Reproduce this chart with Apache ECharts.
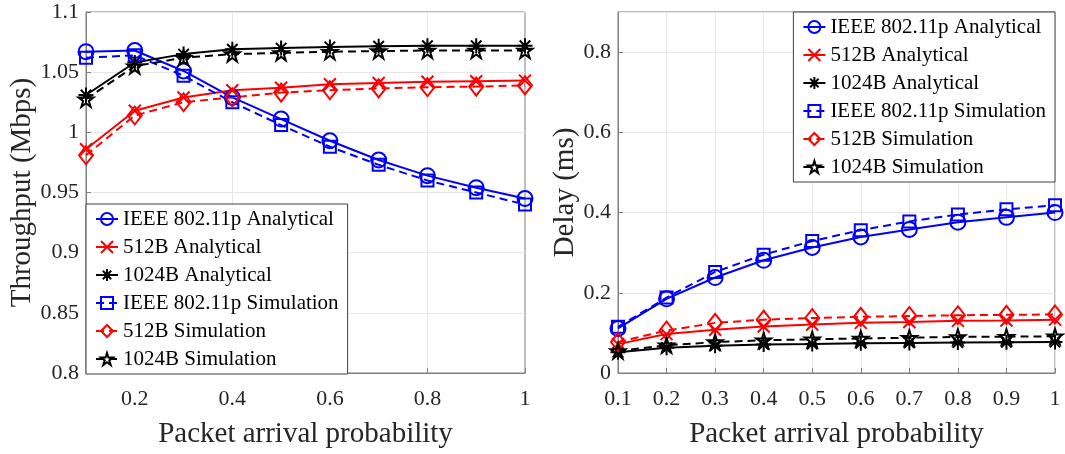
<!DOCTYPE html>
<html>
<head>
<meta charset="utf-8">
<script src="https://cdn.jsdelivr.net/npm/echarts@6/dist/echarts.min.js"></script>
<style>
  html, body { margin: 0; padding: 0; background: #fff; }
  #box { width: 1065px; height: 454px; }
</style>
</head>
<body>
<div id="box"></div>
<script>
// packet arrival probability (x for both panels)
var probs = [0.1, 0.2, 0.3, 0.4, 0.5, 0.6, 0.7, 0.8, 0.9, 1.0];

// throughput (Mbps), left panel
var thrIeeeAna = [1.067, 1.068, 1.051, 1.029, 1.011, 0.993, 0.977, 0.964, 0.954, 0.945];
var thr512Ana = [0.986, 1.018, 1.029, 1.035, 1.037, 1.040, 1.041, 1.042, 1.0425, 1.043];
var thr1024Ana = [1.031, 1.058, 1.065, 1.069, 1.070, 1.071, 1.0715, 1.072, 1.072, 1.072];
var thrIeeeSim = [1.062, 1.064, 1.047, 1.025, 1.006, 0.988, 0.973, 0.960, 0.950, 0.940];
var thr512Sim = [0.981, 1.014, 1.025, 1.029, 1.033, 1.035, 1.0365, 1.0375, 1.038, 1.039];
var thr1024Sim = [1.0275, 1.055, 1.062, 1.065, 1.066, 1.067, 1.0675, 1.068, 1.068, 1.068];

// delay (ms), right panel
var delIeeeAna = [0.111, 0.185, 0.238, 0.281, 0.313, 0.339, 0.358, 0.376, 0.388, 0.400];
var del512Ana = [0.072, 0.097, 0.108, 0.116, 0.121, 0.125, 0.127, 0.130, 0.131, 0.133];
var del1024Ana = [0.052, 0.063, 0.068, 0.071, 0.072, 0.074, 0.075, 0.076, 0.0765, 0.077];
var delIeeeSim = [0.115, 0.188, 0.252, 0.295, 0.329, 0.356, 0.378, 0.395, 0.408, 0.418];
var del512Sim = [0.077, 0.106, 0.125, 0.133, 0.137, 0.140, 0.142, 0.144, 0.145, 0.146];
var del1024Sim = [0.055, 0.069, 0.077, 0.0815, 0.084, 0.086, 0.088, 0.090, 0.0905, 0.0915];

var names = [
    'IEEE 802.11p Analytical', '512B Analytical', '1024B Analytical',
    'IEEE 802.11p Simulation', '512B Simulation', '1024B Simulation'
];

var fontFam = '"Liberation Serif", "Times New Roman", serif';
var txtColor = '#262626';

// marker shapes (MATLAB style)
var crossPath = 'path://M0,0L10,10M10,0L0,10';
var starPath = 'path://M5,0L5,10M0,5L10,5M1.5,1.5L8.5,8.5M8.5,1.5L1.5,8.5';
var pentaPath = 'path://M10,0L12.245,6.91L19.51,6.91L13.633,11.18L15.878,18.09L10,13.82L4.122,18.09L6.367,11.18L0.49,6.91L7.755,6.91Z';

var styles = [
    { color: '#0000ff', symbol: 'circle', size: 15, dashed: false },
    { color: '#ff0000', symbol: crossPath, size: 12, dashed: false },
    { color: '#000000', symbol: starPath, size: 15, dashed: false },
    { color: '#0000ff', symbol: 'rect', size: 12, dashed: true },
    { color: '#ff0000', symbol: 'diamond', size: [14, 18], dashed: true },
    { color: '#000000', symbol: pentaPath, size: 15, dashed: true }
];

function pairs(ys) {
    return probs.map(function (x, i) { return [x, ys[i]]; });
}

function makeSeries(k, axisIdx, ys) {
    var s = styles[k];
    return {
        name: names[k],
        type: 'line',
        xAxisIndex: axisIdx,
        yAxisIndex: axisIdx,
        data: pairs(ys),
        symbol: s.symbol,
        symbolSize: s.size,
        showAllSymbol: true,
        animation: false,
        lineStyle: { color: s.color, width: 2, type: s.dashed ? [8, 5] : 'solid' },
        itemStyle: { color: 'rgba(255,255,255,0)', borderColor: s.color, borderWidth: 2 }
    };
}

var leftSets = [thrIeeeAna, thr512Ana, thr1024Ana, thrIeeeSim, thr512Sim, thr1024Sim];
var rightSets = [delIeeeAna, del512Ana, del1024Ana, delIeeeSim, del512Sim, del1024Sim];

var seriesList = [];
leftSets.forEach(function (ys, k) { seriesList.push(makeSeries(k, 0, ys)); });
rightSets.forEach(function (ys, k) { seriesList.push(makeSeries(k, 1, ys)); });

var axisTxt = { color: txtColor, fontSize: 22, fontFamily: fontFam };
var nameTxt = { color: txtColor, fontSize: 29, fontFamily: fontFam };
var boxLine = { show: true, lineStyle: { color: '#7f7f7f', width: 1 } };
var gridLine = { show: true, lineStyle: { color: '#e6e6e6', width: 1 } };
var inTick = { show: true, inside: true, length: 5, lineStyle: { color: '#7f7f7f' } };

var legendBase = {
    orient: 'vertical',
    data: names,
    backgroundColor: '#fff',
    borderColor: '#404040',
    borderWidth: 1,
    padding: [4, 9, 4, 9],
    itemWidth: 22,
    itemHeight: 15,
    itemGap: 6,
    selectedMode: false,
    textStyle: { color: '#000', fontSize: 21, fontFamily: fontFam, lineHeight: 22 }
};

var myChart = echarts.init(document.getElementById('box'));
var option = {
    animation: false,
    grid: [
        { left: 86, top: 12, width: 439, height: 361, show: true, borderColor: '#7f7f7f', borderWidth: 1 },
        { left: 618, top: 12, width: 437, height: 361, show: true, borderColor: '#7f7f7f', borderWidth: 1 }
    ],
    legend: [
        Object.assign({}, legendBase, { left: 86, top: 204 }),
        Object.assign({}, legendBase, { right: 10, top: 12 })
    ],
    xAxis: [
        {
            gridIndex: 0,
            type: 'value',
            min: 0.1,
            max: 1,
            interval: 0.1,
            name: 'Packet arrival probability',
            nameLocation: 'middle',
            nameGap: 47,
            nameTextStyle: nameTxt,
            axisLine: boxLine,
            axisTick: Object.assign({}, inTick, { customValues: [0.2, 0.4, 0.6, 0.8, 1] }),
            axisLabel: Object.assign({}, axisTxt, {
                margin: 15,
                customValues: [0.2, 0.4, 0.6, 0.8, 1]
            }),
            splitLine: { show: true, lineStyle: { color: ['rgba(0,0,0,0)', '#e6e6e6'], width: 1 } }
        },
        {
            gridIndex: 1,
            type: 'value',
            min: 0.1,
            max: 1,
            interval: 0.1,
            name: 'Packet arrival probability',
            nameLocation: 'middle',
            nameGap: 47,
            nameTextStyle: nameTxt,
            axisLine: boxLine,
            axisTick: inTick,
            axisLabel: Object.assign({}, axisTxt, { margin: 15 }),
            splitLine: gridLine
        }
    ],
    yAxis: [
        {
            gridIndex: 0,
            type: 'value',
            min: 0.8,
            max: 1.1,
            interval: 0.05,
            name: 'Throughput (Mbps)',
            nameLocation: 'middle',
            nameGap: 49,
            nameTextStyle: nameTxt,
            axisLine: boxLine,
            axisTick: inTick,
            axisLabel: Object.assign({}, axisTxt, { margin: 7 }),
            splitLine: gridLine
        },
        {
            gridIndex: 1,
            type: 'value',
            min: 0,
            max: 0.9,
            interval: 0.2,
            name: 'Delay (ms)',
            nameLocation: 'middle',
            nameGap: 37,
            nameTextStyle: nameTxt,
            axisLine: boxLine,
            axisTick: inTick,
            axisLabel: Object.assign({}, axisTxt, { margin: 7, showMaxLabel: false }),
            splitLine: gridLine
        }
    ],
    series: seriesList
};

option && myChart.setOption(option);
</script>
</body>
</html>
